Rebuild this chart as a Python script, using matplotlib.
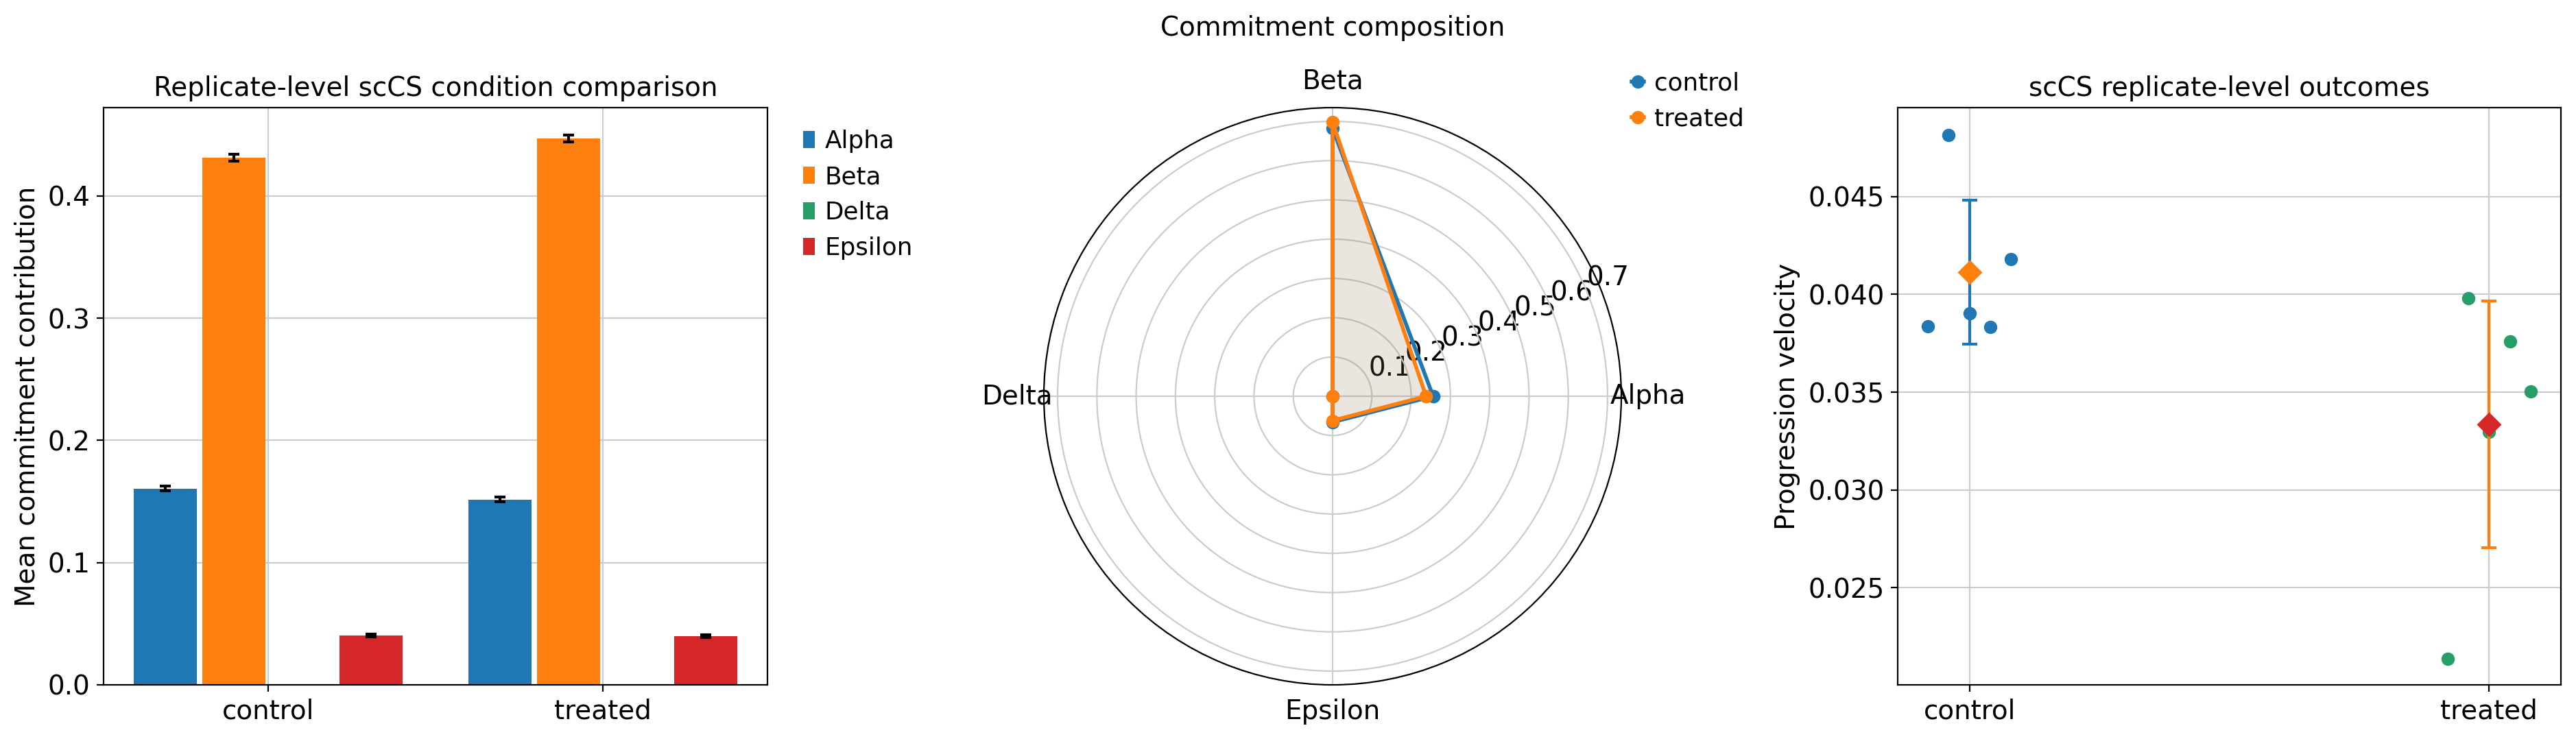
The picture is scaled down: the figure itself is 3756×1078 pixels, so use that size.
import numpy as np
import matplotlib
matplotlib.use("Agg")
import matplotlib.pyplot as plt
from cycler import cycler

# ---------------- data ----------------
conditions = ["control", "treated"]
fates = ["Alpha", "Beta", "Delta", "Epsilon"]

bar_means_control = [0.1606, 0.4312, 0.0, 0.0405]
bar_means_treated = [0.1517, 0.4470, 0.0, 0.0398]
bar_err_control = [0.0019, 0.0028, np.nan, 0.0012]
bar_err_treated = [0.0019, 0.0028, np.nan, 0.0012]

radar_control = [0.256, 0.682, 0.0, 0.066]
radar_treated = [0.238, 0.698, 0.0, 0.062]

velocity_control = [0.03837, 0.04816, 0.03902, 0.03833, 0.04180]
velocity_treated = [0.02137, 0.03982, 0.03295, 0.03760, 0.03505]
velocity_mean = [0.04114, 0.03336]
velocity_sd = [0.00369, 0.00631]
jitter_offsets = [-0.08, -0.04, 0.0, 0.04, 0.08]

palette = ["#1f77b4", "#ff7f0e", "#279e68", "#d62728"]

# ---------------- style (scanpy-like) ----------------
fs = 14
plt.rcParams.update({
    "font.size": fs,
    "legend.fontsize": 0.92 * fs,
    "axes.titlesize": fs,
    "axes.labelsize": fs,
    "xtick.labelsize": fs,
    "ytick.labelsize": fs,
    "legend.handlelength": 0.5,
    "legend.handletextpad": 0.4,
    "legend.numpoints": 1,
    "legend.scatterpoints": 1,
    "axes.prop_cycle": cycler(color=palette),
    "axes.linewidth": 0.8,
    "axes.edgecolor": "black",
    "axes.grid": True,
    "grid.color": ".8",
    "lines.linewidth": 1.5,
    "lines.markersize": 6,
    "lines.markeredgewidth": 1,
    "axes.axisbelow": True,
})

W, H = 3756, 1078
dpi = 200
fig = plt.figure(figsize=(W / dpi, H / dpi), dpi=dpi)

def box(x0, y0, x1, y1):
    return [x0 / W, 1 - y1 / H, (x1 - x0) / W, (y1 - y0) / H]

# ---------------- left: grouped bars ----------------
ax1 = fig.add_axes(box(151, 157, 1119, 999))
x = np.arange(len(conditions))
spacing = 0.205
width = 0.188
means = [bar_means_control, bar_means_treated]
errs = [bar_err_control, bar_err_treated]
for j, fate in enumerate(fates):
    vals = [means[i][j] for i in range(len(conditions))]
    e = [errs[i][j] for i in range(len(conditions))]
    ax1.bar(x + (j - 1.5) * spacing, vals, width, yerr=e, capsize=3,
            color=palette[j], linewidth=0,
            error_kw=dict(ecolor="black", elinewidth=1.5, capthick=1.5),
            label=fate)
ax1.set_xticks(x)
ax1.set_xticklabels(conditions)
ax1.set_ylabel("Mean commitment contribution")
ax1.set_title("Replicate-level scCS condition comparison")
ax1.legend(loc="upper left", bbox_to_anchor=(1.02, 1.0), frameon=False)

# ---------------- middle: radar ----------------
ax2 = fig.add_axes(box(1522, 157, 2364, 999), projection="polar")
angles = np.linspace(0, 2 * np.pi, len(fates), endpoint=False)
angles_c = np.concatenate([angles, angles[:1]])
for vals, cond, col in [(radar_control, "control", palette[0]),
                        (radar_treated, "treated", palette[1])]:
    v = np.concatenate([vals, vals[:1]])
    ax2.plot(angles_c, v, "o-", color=col, lw=2, label=cond)
    ax2.fill(angles_c, v, color=col, alpha=0.1)
ax2.set_xticks(angles)
ax2.set_xticklabels(fates)
ax2.set_ylim(0, 0.735)
ax2.set_yticks([0.1, 0.2, 0.3, 0.4, 0.5, 0.6, 0.7])
ax2.set_title("Commitment composition", y=1.105)
ax2.legend(loc="upper left", bbox_to_anchor=(0.98, 1.1), frameon=False)

# ---------------- right: replicate outcomes ----------------
ax3 = fig.add_axes(box(2767, 157, 3734, 999))
groups = [velocity_control, velocity_treated]
pt_cols = [palette[0], palette[2]]
mean_cols = [palette[1], palette[3]]
err_cols = [palette[0], palette[1]]
for i, vals in enumerate(groups):
    xs = [i + o for o in jitter_offsets]
    ax3.scatter(xs, vals, color=pt_cols[i], zorder=3)
    ax3.errorbar(i, velocity_mean[i], yerr=velocity_sd[i], fmt="D",
                 color=mean_cols[i], ecolor=err_cols[i], ms=8,
                 capsize=4, elinewidth=1.5, capthick=1.5, zorder=4)
ax3.set_xticks(range(len(conditions)))
ax3.set_xticklabels(conditions)
ax3.set_ylabel("Progression velocity")
ax3.set_title("scCS replicate-level outcomes")
ax3.set_yticks([0.025, 0.030, 0.035, 0.040, 0.045])
ax3.set_ylim(0.02003, 0.04955)

fig.savefig("out.png", dpi=dpi)
